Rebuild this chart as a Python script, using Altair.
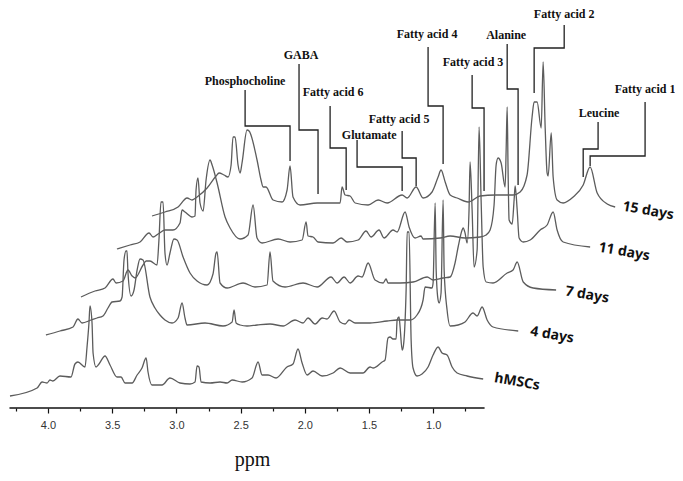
import altair as alt
import pandas as pd

# Spectra: chemical shift as positioned on the stacked plot's axis (ppm) and stacked intensity (a.u.)
PPM_HMSC = [4.296,4.085,4.046,4.007,3.985,3.962,3.907,3.821,3.790,3.767,3.712,3.696,3.681,3.673,3.657,3.649,3.626,3.603,3.556,3.517,3.463,3.431,3.400,3.345,3.306,3.268,3.236,3.221,3.190,3.112,3.050,2.972,2.894,2.855,2.839,2.824,2.808,2.738,2.660,2.605,2.566,2.488,2.411,2.364,2.333,2.286,2.224,2.139,2.092,2.053,2.021,1.982,1.936,1.865,1.780,1.725,1.647,1.547,1.492,1.468,1.398,1.375,1.352,1.336,1.313,1.289,1.281,1.266,1.258,1.242,1.235,1.211,1.203,1.188,1.172,1.157,1.126,1.087,1.040,1.001,0.962,0.931,0.892,0.853,0.814,0.736,0.611]
INT_HMSC = [12,20,26,25,28,27,32,31,44,46,41,61,85,102,85,55,41,44,52,43,31,31,25,25,33,40,50,36,23,23,30,25,24,26,42,41,26,25,26,25,28,26,30,46,33,33,30,41,44,59,45,33,37,32,35,40,35,35,41,40,46,48,70,71,69,69,88,91,81,58,60,118,176,176,68,40,32,34,41,53,61,55,53,41,35,32,29]

PPM_4D = [4.016,3.907,3.805,3.767,3.735,3.665,3.618,3.572,3.533,3.501,3.439,3.423,3.408,3.392,3.385,3.377,3.353,3.330,3.306,3.283,3.260,3.206,3.167,3.128,3.089,3.034,2.987,2.956,2.933,2.917,2.777,2.637,2.566,2.551,2.535,2.504,2.450,2.372,2.271,2.169,2.076,2.014,1.975,1.920,1.865,1.827,1.772,1.725,1.686,1.655,1.608,1.492,1.359,1.281,1.180,1.126,1.079,1.063,1.009,1.001,0.985,0.977,0.962,0.954,0.939,0.923,0.915,0.892,0.868,0.806,0.752,0.690,0.658,0.619,0.580,0.534,0.338]
INT_4D = [73,77,81,89,85,88,90,92,100,106,107,111,148,157,157,135,112,118,138,149,148,111,100,93,88,85,90,105,90,83,85,82,86,98,85,83,82,83,84,82,88,85,90,84,90,89,97,86,84,88,85,85,87,88,88,93,108,121,120,125,205,138,108,105,115,208,138,98,82,83,86,95,92,101,88,81,77]

PPM_7D = [3.743,3.634,3.556,3.494,3.470,3.416,3.377,3.345,3.322,3.260,3.236,3.206,3.151,3.136,3.120,3.104,3.089,3.073,3.050,3.019,2.995,2.948,2.894,2.839,2.761,2.715,2.691,2.683,2.660,2.605,2.481,2.388,2.294,2.271,2.248,2.154,2.014,1.904,1.795,1.749,1.694,1.647,1.585,1.554,1.507,1.453,1.390,1.367,1.352,1.258,1.157,1.047,1.001,0.923,0.868,0.830,0.806,0.775,0.767,0.752,0.736,0.721,0.713,0.697,0.682,0.658,0.643,0.627,0.611,0.588,0.534,0.424,0.378,0.346,0.299,0.222,0.043]
INT_7D = [111,117,120,129,125,127,138,132,130,143,147,147,143,168,206,206,155,143,155,169,168,151,135,127,123,134,155,156,125,120,125,121,123,156,127,121,125,121,131,125,131,125,132,131,145,128,125,129,125,125,126,131,128,130,131,145,161,178,180,175,165,198,246,198,141,158,281,208,141,126,125,135,138,146,126,120,118]

PPM_11D = [3.463,3.361,3.283,3.213,3.182,3.143,3.089,3.027,2.972,2.956,2.933,2.878,2.855,2.847,2.832,2.816,2.792,2.769,2.738,2.722,2.683,2.621,2.582,2.504,2.442,2.403,2.372,2.333,2.208,2.115,2.021,1.990,1.975,1.936,1.897,1.780,1.717,1.671,1.585,1.523,1.484,1.422,1.383,1.313,1.281,1.219,1.188,1.141,1.095,1.079,0.946,0.868,0.752,0.635,0.588,0.557,0.526,0.510,0.495,0.471,0.440,0.432,0.424,0.417,0.409,0.385,0.370,0.362,0.346,0.331,0.299,0.245,0.167,0.113,0.066,0.035,-0.012,-0.222]
INT_11D = [159,163,166,175,171,174,178,178,185,198,196,191,192,218,230,205,197,228,248,243,225,191,180,169,173,203,170,165,169,166,168,186,172,171,166,165,170,166,168,177,171,178,170,178,176,196,181,170,172,169,170,172,170,171,173,178,203,243,250,245,221,258,301,238,188,184,208,222,198,170,166,168,178,183,196,178,166,161]

PPM_15D = [3.190,3.089,2.987,2.917,2.878,2.839,2.761,2.691,2.668,2.629,2.598,2.574,2.559,2.543,2.520,2.504,2.489,2.450,2.434,2.372,2.341,2.325,2.302,2.247,2.177,2.138,2.115,2.092,2.037,1.904,1.803,1.725,1.710,1.686,1.647,1.608,1.507,1.429,1.359,1.242,1.203,1.133,1.079,1.009,0.962,0.939,0.907,0.868,0.814,0.728,0.635,0.518,0.378,0.323,0.269,0.230,0.214,0.191,0.159,0.144,0.128,0.113,0.105,0.081,0.066,0.035,-0.012,-0.090,-0.168,-0.222,-0.277,-0.355,-0.417]
INT_15D = [192,196,201,210,208,211,220,232,235,233,231,243,271,271,243,235,245,278,277,248,228,221,221,208,206,218,242,211,203,205,205,205,221,213,212,205,203,208,205,213,210,221,210,216,231,238,226,213,210,206,212,213,213,216,233,291,306,306,280,346,280,235,232,275,231,208,205,211,223,241,215,204,201]

SERIES = ["hMSCs", "4 days", "7 days", "11 days", "15 days"]
SERIES_PPM = [0.347, 0.074, -0.199, -0.487, -0.674]
SERIES_INT = [26, 73, 113, 156, 197]

# Peak assignments and their leader lines
PEAKS = ["Phosphocholine","GABA","Fatty acid 6","Glutamate","Fatty acid 5","Fatty acid 4","Fatty acid 3","Alanine","Fatty acid 2","Leucine","Fatty acid 1"]
PEAK_PPM = [2.465,2.029,1.780,1.499,1.266,1.048,0.690,0.432,-0.020,-0.292,-0.650]
PEAK_INT = [327,353,316,273,289,374,346,373,394,295,319]
LEADER_PPM = [[2.465,2.465,2.115,2.115],[2.045,2.045,1.897,1.897],[1.803,1.803,1.678,1.678],[1.593,1.593,1.242,1.242],[1.242,1.242,1.133,1.133],[1.040,1.040,0.923,0.923],[0.697,0.697,0.604,0.604],[0.424,0.424,0.339,0.339],[-0.020,-0.020,0.214,0.214],[-0.284,-0.284,-0.168,-0.168],[-0.650,-0.650,-0.222,-0.222]]
LEADER_INT = [[318,282,282,247],[344,278,278,214],[302,260,260,218],[268,241,241,217],[277,250,250,222],[361,302,302,244],[333,300,300,217],[364,319,319,223],[383,360,360,315],[286,259,259,231],[306,252,252,242]]

TICKS = [4.25,4.0,3.75,3.5,3.25,3.0,2.75,2.5,2.25,2.0,1.75,1.5,1.25,1.0,0.75]
AXIS_RANGE = [4.3, 0.6]

spectra = pd.concat([
    pd.DataFrame({"s": n, "i": range(len(p)), "ppm": p, "v": v})
    for n, p, v in zip(SERIES, [PPM_HMSC, PPM_4D, PPM_7D, PPM_11D, PPM_15D], [INT_HMSC, INT_4D, INT_7D, INT_11D, INT_15D])
])
leaders = pd.concat([
    pd.DataFrame({"s": n, "i": range(4), "ppm": p, "v": v})
    for n, p, v in zip(PEAKS, LEADER_PPM, LEADER_INT)
])
x_scale = alt.Scale(domain=[4.3115, -0.883], nice=False, zero=False)
y_scale = alt.Scale(domain=[0, 400], nice=False, zero=False)
x = alt.X("ppm:Q", scale=x_scale, title="ppm", axis=alt.Axis(
    values=TICKS, domain=False, grid=False,
    labelExpr="(datum.value * 2) % 1 == 0 ? format(datum.value, '.1f') : ''",
    tickColor="#111", tickWidth=1.2,
    tickSize={"condition": {"test": "(datum.value * 2) % 1 == 0", "value": 5}, "value": 3},
    labelFont="Liberation Sans", labelFontSize=11, labelColor="#333", labelPadding=6, labelOverlap=False,
    titleFont="Liberation Serif", titleFontSize=20, titleFontWeight="normal", titleColor="#111",
    titleX=244, titleY=57, titleBaseline="alphabetic", titleAnchor="middle", titleAlign="center"))
y = alt.Y("v:Q", scale=y_scale, axis=None)

axis_layer = alt.Chart(pd.DataFrame({"ppm": AXIS_RANGE, "v": [0, 0], "i": [0, 1]})).mark_line(color="#111", strokeWidth=1.4, clip=False).encode(
    x=x, y=y, order="i:O")

lines = alt.Chart(spectra).mark_line(color="#5c5c5c", strokeWidth=1.3, clip=False, interpolate="monotone").encode(
    x=x, y=y, detail="s:N", order="i:O")
leader_lines = alt.Chart(leaders).mark_line(color="#222", strokeWidth=1.3, clip=False).encode(
    x=x, y=y, detail="s:N", order="i:O")
peak_text = alt.Chart(pd.DataFrame({"t": PEAKS, "ppm": PEAK_PPM, "v": PEAK_INT})).mark_text(
    font="Liberation Serif", fontWeight="bold", fontSize=12, color="#111").encode(x=x, y=y, text="t:N")
series_text = alt.Chart(pd.DataFrame({"t": SERIES, "ppm": SERIES_PPM, "v": SERIES_INT})).mark_text(
    font="Noto Sans", fontWeight="bold", fontSize=14, color="#111", angle=10).encode(x=x, y=y, text="t:N")

chart = alt.layer(axis_layer, lines, leader_lines, peak_text, series_text).properties(
    width=667, height=400,
    autosize=alt.AutoSizeParams(type="none"),
    padding={"left": 0, "top": 0, "right": 0, "bottom": 65},
).configure_view(stroke=None)

chart.save("out.html", embed_options={"renderer": "svg", "actions": False})
